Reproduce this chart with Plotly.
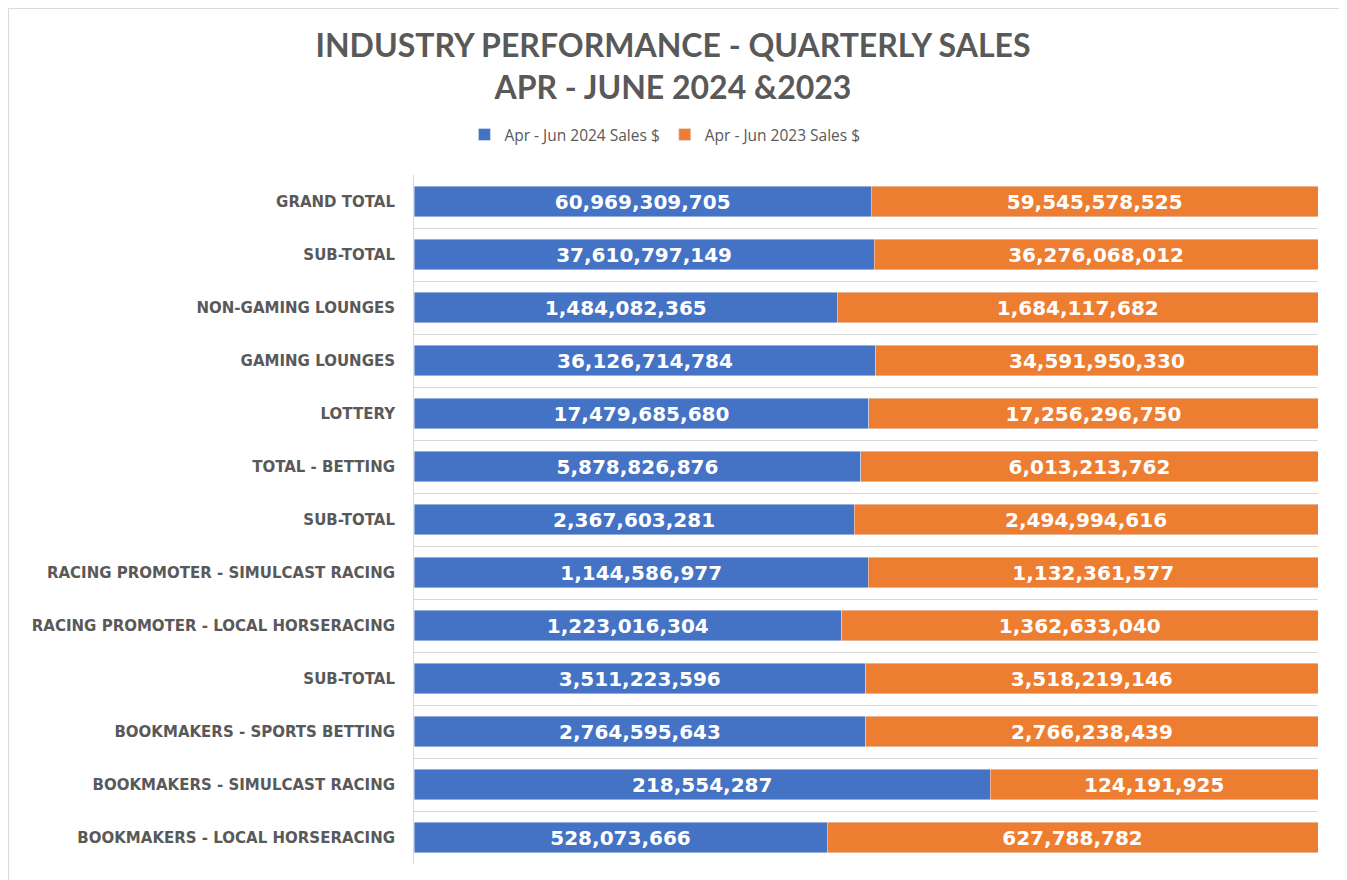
import plotly.graph_objects as go

# Categories, listed top to bottom as in the chart
categories = [
    "GRAND TOTAL",
    "SUB-TOTAL",
    "NON-GAMING LOUNGES",
    "GAMING LOUNGES",
    "LOTTERY",
    "TOTAL - BETTING",
    "SUB-TOTAL",
    "RACING PROMOTER - SIMULCAST RACING",
    "RACING PROMOTER - LOCAL HORSERACING",
    "SUB-TOTAL",
    "BOOKMAKERS - SPORTS BETTING",
    "BOOKMAKERS - SIMULCAST RACING",
    "BOOKMAKERS - LOCAL HORSERACING",
]

sales_2024 = [60969309705, 37610797149, 1484082365, 36126714784, 17479685680,
              5878826876, 2367603281, 1144586977, 1223016304, 3511223596,
              2764595643, 218554287, 528073666]

sales_2023 = [59545578525, 36276068012, 1684117682, 34591950330, 17256296750,
              6013213762, 2494994616, 1132361577, 1362633040, 3518219146,
              2766238439, 124191925, 627788782]

# numeric positions since "SUB-TOTAL" repeats
pos = list(range(len(categories)))

label_font = dict(family="DejaVu Sans", size=20, color="white", weight="bold")

fig = go.Figure()
fig.add_trace(go.Bar(
    y=pos, x=sales_2024, orientation="h", name="Apr - Jun 2024 Sales $",
    marker_color="#4472C4", text=[f"{v:,}" for v in sales_2024],
    textposition="inside", insidetextanchor="middle", textfont=label_font,
))
fig.add_trace(go.Bar(
    y=pos, x=sales_2023, orientation="h", name="Apr - Jun 2023 Sales $",
    marker_color="#ED7D31", text=[f"{v:,}" for v in sales_2023],
    textposition="inside", insidetextanchor="middle", textfont=label_font,
))

# the page body adds 8px, so the figure is 8px smaller than the window
fig.update_layout(
    width=1339, height=872,
    barmode="stack", barnorm="percent", bargap=0.43,
    plot_bgcolor="white", paper_bgcolor="white",
    margin=dict(l=406, r=29, t=167, b=16),
    uniformtext=dict(mode="show", minsize=10),
    title=dict(
        text="INDUSTRY PERFORMANCE - QUARTERLY SALES<br>APR - JUNE 2024 &2023",
        x=0.4966, xanchor="center", y=0.9438, yanchor="middle",
        font=dict(family="Lato", size=32, color="#595959", weight="bold"),
    ),
    legend=dict(
        orientation="h", xref="container", yref="container",
        x=0.4906, xanchor="center", y=0.8544, yanchor="middle",
        font=dict(family="Open Sans", size=15.5, color="#595959"),
        traceorder="normal", itemwidth=30,
    ),
    showlegend=True,
)

fig.update_xaxes(range=[0, 100], showgrid=False, showticklabels=False,
                 zeroline=False, fixedrange=True)
fig.update_yaxes(
    range=[len(categories) - 0.5, -0.5],
    tickvals=pos, ticktext=categories, ticklabelstandoff=15,
    tickfont=dict(family="DejaVu Sans", size=15, color="#595959", weight="bold"),
    showgrid=False, zeroline=False,
    showline=True, linecolor="#d9d9d9", linewidth=1,
    minor=dict(tickvals=[p - 0.5 for p in pos] + [len(pos) - 0.5],
               showgrid=True, gridcolor="#d9d9d9", gridwidth=1),
)

# outer chart frame (its bottom edge lies below the page)
fig.add_shape(type="rect", xref="paper", yref="paper",
              x0=-0.4485, x1=1.024, y0=-0.06, y1=1.2417,
              line=dict(color="#d9d9d9", width=1), fillcolor="rgba(0,0,0,0)",
              layer="below")

fig.write_html("out.html")
